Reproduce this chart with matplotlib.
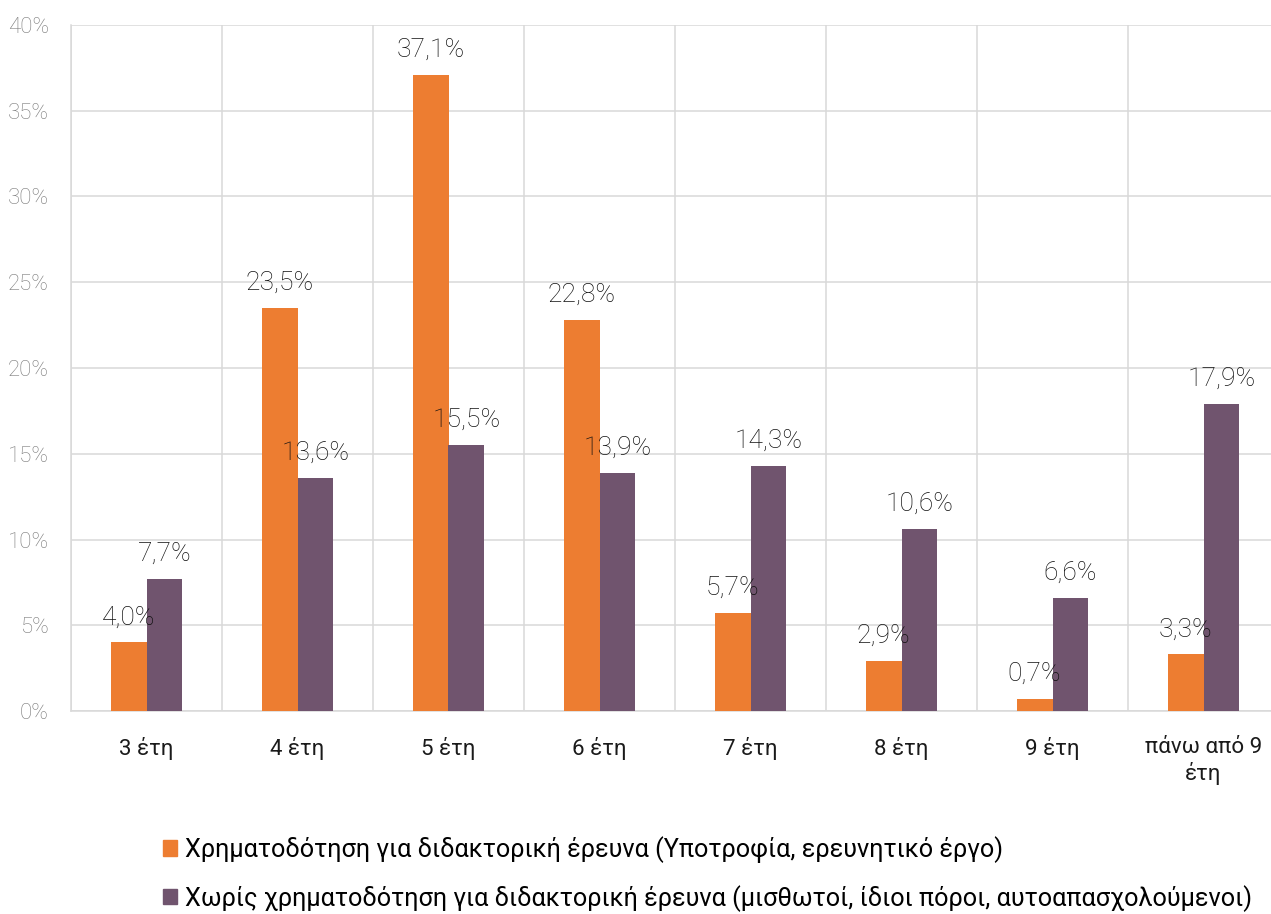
import numpy as np
import matplotlib.pyplot as plt
from matplotlib.patches import Patch

# Δεδομένα
katigories = ['3 έτη', '4 έτη', '5 έτη', '6 έτη', '7 έτη', '8 έτη', '9 έτη', 'πάνω από 9\nέτη']
me_xrimatodotisi = [4.0, 23.5, 37.1, 22.8, 5.7, 2.9, 0.7, 3.3]
xoris_xrimatodotisi = [7.7, 13.6, 15.5, 13.9, 14.3, 10.6, 6.6, 17.9]
y_ticks = [0, 5, 10, 15, 20, 25, 30, 35, 40]
legend_labels = ['Χρηματοδότηση για διδακτορική έρευνα (Υποτροφία, ερευνητικό έργο)',
                 'Χωρίς χρηματοδότηση για διδακτορική έρευνα (μισθωτοί, ίδιοι πόροι, αυτοαπασχολούμενοι)']

PORTOKALI = '#ED7D31'
MOV = '#70546E'
GRID = '#D9D9D9'

plt.rcParams['font.family'] = ['Roboto', 'DejaVu Sans']

fig = plt.figure(figsize=(12.71, 9.14), dpi=100)
ax = fig.add_axes([71 / 1271, 1 - 711 / 914, (1279 - 71) / 1271, (711 - 25) / 914])

x = np.arange(len(katigories))
w = 0.238
b1 = ax.bar(x - w / 2, me_xrimatodotisi, w, color=PORTOKALI, zorder=3)
b2 = ax.bar(x + w / 2, xoris_xrimatodotisi, w, color=MOV, zorder=3)

for bars, vals in ((b1, me_xrimatodotisi), (b2, xoris_xrimatodotisi)):
    for r, v in zip(bars, vals):
        ax.annotate(f'{v:.1f}%'.replace('.', ','), (r.get_x() + r.get_width() / 2, v),
                    xytext=(0, 13), textcoords='offset points', ha='center', va='baseline',
                    fontsize=19, fontweight='light', color='#111111', zorder=4)

ax.set_xlim(-0.5, len(katigories) - 0.5)
ax.set_ylim(0, 40)
ax.set_yticks(y_ticks)
ax.set_yticklabels([f'{t}%' for t in y_ticks], fontsize=16, fontweight='light', color='#7a7a7a')
ax.set_xticks(x)
ax.set_xticklabels(katigories, fontsize=16, color='#1a1a1a')
ax.set_xticks(np.arange(-0.5, len(katigories)), minor=True)
ax.tick_params(axis='both', which='both', length=0)
ax.tick_params(axis='y', pad=16)
ax.tick_params(axis='x', pad=19)
ax.grid(True, axis='y', color=GRID, linewidth=1.1, zorder=0)
ax.grid(True, axis='x', which='minor', color=GRID, linewidth=1.1, zorder=0)
ax.grid(False, axis='x', which='major')
for s in ['top', 'right']:
    ax.spines[s].set_visible(False)
for s in ['left', 'bottom']:
    ax.spines[s].set_color(GRID)
    ax.spines[s].set_linewidth(1.1)

handles = [Patch(color=PORTOKALI), Patch(color=MOV)]
fig.legend(handles, legend_labels, loc='upper left', bbox_to_anchor=(153 / 1271, 1 - 826 / 914),
           frameon=False, fontsize=18.2, handlelength=0.55, handleheight=0.55, handletextpad=0.3,
           labelspacing=0.86, borderaxespad=0)

fig.savefig('out.png', dpi=100)
